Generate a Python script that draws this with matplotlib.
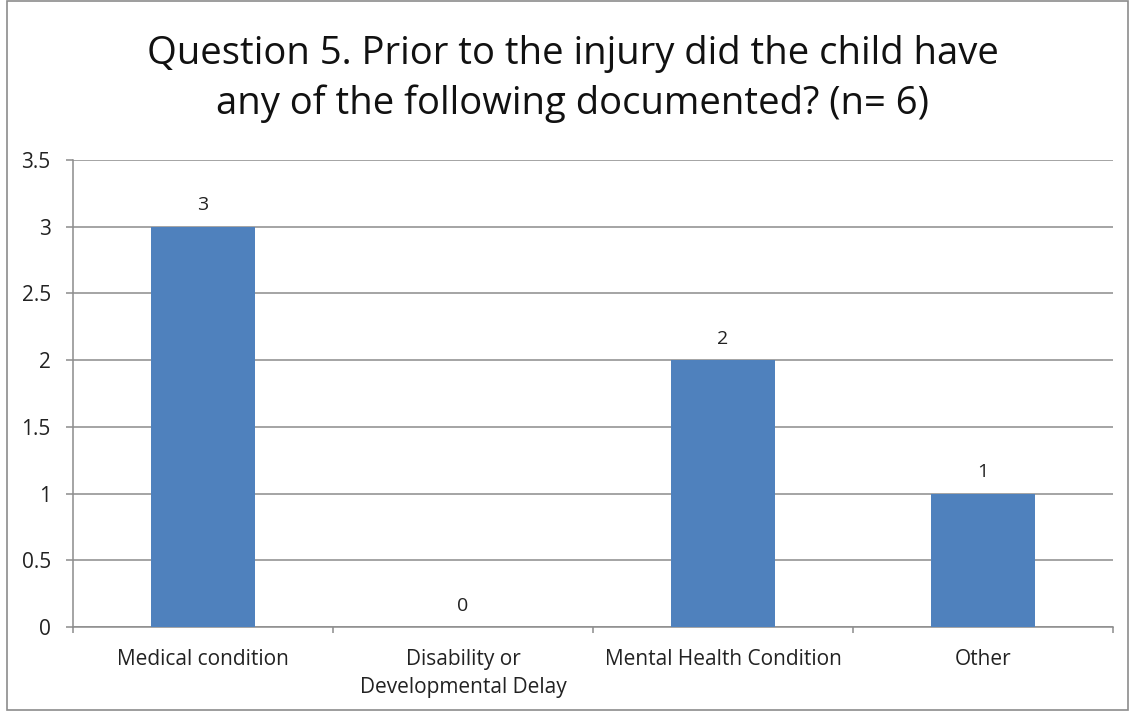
import matplotlib
matplotlib.use("Agg")
from matplotlib import pyplot as plt
from matplotlib.patches import Rectangle

# Chart data
categories = ['Medical condition', 'Disability or\nDevelopmental Delay',
              'Mental Health Condition', 'Other']
counts = [3, 0, 2, 1]
y_ticks = [0, 0.5, 1, 1.5, 2, 2.5, 3, 3.5]
y_tick_labels = ['0', '0.5', '1', '1.5', '2', '2.5', '3', '3.5']
title = 'Question 5. Prior to the injury did the child have\nany of the following documented? (n= 6)'

plt.rcParams['font.family'] = ['Open Sans', 'DejaVu Sans']

fig = plt.figure(figsize=(11.35, 7.15), dpi=100, facecolor='white')
ax = fig.add_axes([73 / 1135, 1 - 627 / 715, 1040 / 1135, 467 / 715])

# Outer chart frame
fig.patches.append(Rectangle((7 / 1135, 5 / 715), 1121 / 1135, 709 / 715,
                             transform=fig.transFigure, fill=False,
                             edgecolor='#8c8c8c', linewidth=1.2))

positions = list(range(len(categories)))
ax.bar(positions, counts, width=0.4, color='#4F81BD', zorder=3)

for x, v in zip(positions, counts):
    ax.text(x, v + 0.16, str(v), ha='center', va='center', fontsize=14, color='#222222')

ax.set_xlim(-0.5, len(categories) - 0.5)
ax.set_ylim(0, 3.5)
ax.set_yticks(y_ticks)
ax.set_yticklabels(y_tick_labels, fontsize=15, color='#222222')
ax.yaxis.grid(True, color='#8c8c8c', linewidth=1.1, zorder=0)
ax.set_axisbelow(True)

# Category labels between boundary ticks
ax.set_xticks([p - 0.5 for p in positions] + [len(categories) - 0.5])
ax.set_xticklabels([])
ax.set_xticks(positions, minor=True)
ax.set_xticklabels(categories, minor=True, fontsize=15, color='#222222', linespacing=1.45)
ax.tick_params(axis='x', which='minor', length=0, pad=16)
ax.tick_params(axis='x', which='major', length=4.5, color='#8c8c8c', width=1.1)
ax.tick_params(axis='y', length=5, color='#8c8c8c', width=1.1, pad=11)
for lbl in ax.get_xticklabels(minor=True):
    lbl.set_verticalalignment('top')

for name in ('top', 'right'):
    ax.spines[name].set_visible(False)
for name in ('left', 'bottom'):
    ax.spines[name].set_color('#8c8c8c')
    ax.spines[name].set_linewidth(1.1)

fig.text(573 / 1135, 1 - 79 / 715, title, ha='center', va='center',
         fontsize=27.5, linespacing=1.4, color='#111111')

fig.savefig('out.png', dpi=100, facecolor='white')
